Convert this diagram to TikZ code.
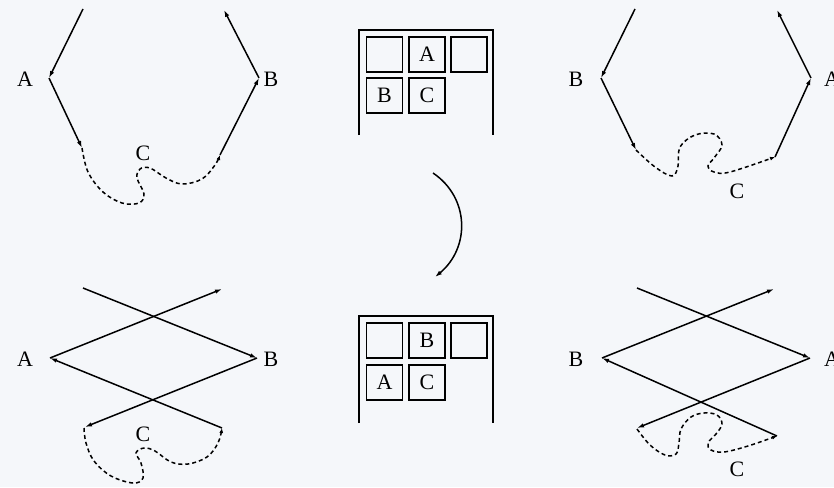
\documentclass[tikz,border=0pt]{standalone}
\usepackage{fontspec}
\setmainfont{Liberation Serif}
\usetikzlibrary{arrows.meta}
\definecolor{bg}{HTML}{F5F7FA}
\begin{document}
\begin{tikzpicture}[x=1pt,y=-1pt,
  seg/.style={line width=1.5pt,line join=round},
  arr/.style={seg,-{Latex[length=7pt,width=4.5pt]}},
  dsh/.style={line width=1.5pt,dash pattern=on 4pt off 3pt,-{Latex[length=5pt,width=4pt]}},
  lbl/.style={font=\fontsize{22}{24}\selectfont,inner sep=0pt},
  cell/.style={draw,line width=1.5pt,minimum width=36pt,minimum height=35pt,inner sep=0pt,font=\fontsize{22}{24}\selectfont},
  frame/.style={line width=1.7pt}]
\fill[bg] (0,0) rectangle (834,487);
\useasboundingbox (0,0) rectangle (834,487);

% ---------- top left ----------
\coordinate (tlS) at (83,9);
\coordinate (tlA) at (49,78);
\coordinate (tlP) at (82,148);
\coordinate (tlQ) at (220,155);
\coordinate (tlB) at (259,78);
\coordinate (tlE) at (224,10);
\node[lbl] (tlLA) at (25,79) {A};
\node[lbl] (tlLB) at (271,79) {B};
\node[lbl] (tlLC) at (143,153) {C};
\draw[arr] (tlS) -- (tlA);
\draw[arr] (tlA) -- (tlP);
\draw[dsh] plot[smooth,tension=0.6] coordinates {(82,148) (88,172) (103,192) (122,203) (139,203) (144,194) (137,178) (140,169) (150,168) (166,178) (182,184) (202,179) (215,165) (220,155)};
\draw[arr] (tlQ) -- (tlB);
\draw[arr] (tlB) -- (tlE);

% ---------- top right ----------
\coordinate (trS) at (635,9);
\coordinate (trB) at (601,78);
\coordinate (trP) at (636,150);
\coordinate (trQ) at (775,157);
\coordinate (trA) at (811,78);
\coordinate (trE) at (777,10);
\node[lbl] (trLB) at (576,79) {B};
\node[lbl] (trLA) at (832,79) {A};
\node[lbl] (trLC) at (737,191) {C};
\draw[arr] (trS) -- (trB);
\draw[arr] (trB) -- (trP);
\draw[dsh] plot[smooth,tension=0.6] coordinates {(636,150) (655,167) (672,176) (678,166) (680,147) (695,135) (714,134) (722,145) (714,158) (708,166) (714,172) (730,172) (775,157)};
\draw[arr] (trQ) -- (trA);
\draw[arr] (trA) -- (trE);

% ---------- bottom left ----------
\coordinate (blS) at (83,288);
\coordinate (blB) at (257,358);
\coordinate (blP) at (85,427);
\coordinate (blQ) at (222,428);
\coordinate (blA) at (50,358);
\coordinate (blE) at (222,289);
\node[lbl] (blLA) at (25,359) {A};
\node[lbl] (blLB) at (271,359) {B};
\node[lbl] (blLC) at (143,434) {C};
\draw[arr] (blS) -- (blB);
\draw[arr] (blB) -- (blP);
\draw[dsh] plot[smooth,tension=0.6] coordinates {(84,428) (86,443) (94,461) (111,476) (133,483) (143,478) (141,463) (136,453) (144,448) (155,451) (171,462) (188,464) (207,457) (218,443) (222,428)};
\draw[arr] (blQ) -- (blA);
\draw[arr] (blA) -- (blE);

% ---------- bottom right ----------
\coordinate (brS) at (637,288);
\coordinate (brA) at (810,358);
\coordinate (brP) at (637,428);
\coordinate (brQ) at (777,436);
\coordinate (brB) at (602,358);
\coordinate (brE) at (774,289);
\node[lbl] (brLB) at (576,359) {B};
\node[lbl] (brLA) at (832,359) {A};
\node[lbl] (brLC) at (737,469) {C};
\draw[arr] (brS) -- (brA);
\draw[arr] (brA) -- (brP);
\draw[dsh] plot[smooth,tension=0.6] coordinates {(637,429) (650,445) (665,455) (676,454) (679,443) (681,429) (691,417) (704,413) (717,415) (722,424) (716,434) (708,443) (711,450) (724,452) (748,446) (777,436)};
\draw[arr] (brQ) -- (brB);
\draw[arr] (brB) -- (brE);

% ---------- middle top grid ----------
\draw[frame] (359,135) -- (359,30) -- (493,30) -- (493,135);
\node[cell] (t11) at (384.5,54.5) {};
\node[cell] (t12) at (427,54.5) {A};
\node[cell] (t13) at (469,54.5) {};
\node[cell] (t21) at (384.5,95.5) {B};
\node[cell] (t22) at (427,95.5) {C};

% ---------- middle bottom grid ----------
\draw[frame] (359,423) -- (359,316) -- (493,316) -- (493,423);
\node[cell] (b11) at (384.5,340.5) {};
\node[cell] (b12) at (427,340.5) {B};
\node[cell] (b13) at (469,340.5) {};
\node[cell] (b21) at (384.5,382.5) {A};
\node[cell] (b22) at (427,382.5) {C};

% ---------- curved arrow ----------
\coordinate (cvS) at (433,173);
\coordinate (cvE) at (435,277);
\draw[arr] (cvS) .. controls (470,198) and (470,248) .. (cvE);
\end{tikzpicture}
\end{document}
